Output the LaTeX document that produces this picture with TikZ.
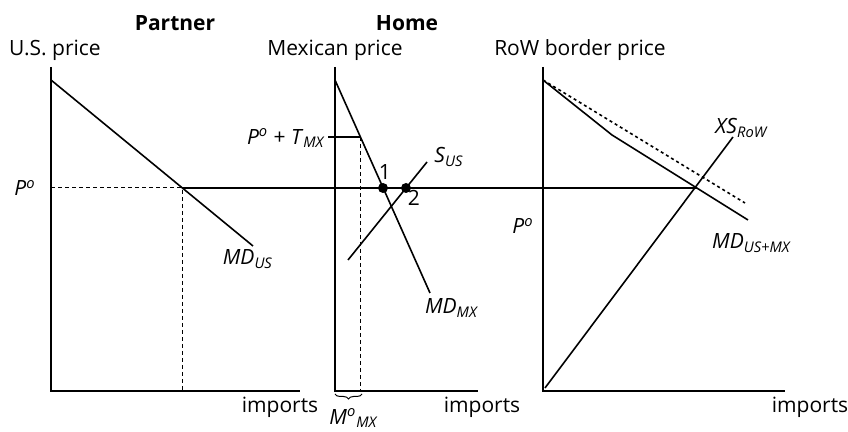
\documentclass[tikz,border=0pt]{standalone}
\usepackage{fontspec}
\setmainfont{Open Sans}
\usetikzlibrary{decorations.pathreplacing}

\newcommand{\Po}{\textit{P}\textsuperscript{\textit{o}}}

\begin{document}
\begin{tikzpicture}[x=0.5pt, y=-0.5pt,
    axis/.style={line width=1.2pt},
    curve/.style={line width=0.8pt},
    guide/.style={line width=0.5pt, dash pattern=on 2pt off 1.5pt},
    lbl/.style={inner sep=0pt, font=\fontsize{10.5}{12}\selectfont},
    ttl/.style={lbl, font=\fontsize{10.5}{12}\selectfont\bfseries},
    dot/.style={circle, fill, inner sep=0pt, minimum size=5pt}]
    \useasboundingbox (0,0) rectangle (848,432);

    % partner: U.S. market
    \coordinate (usTop) at (51,67);
    \coordinate (usO) at (51,391);
    \coordinate (usEnd) at (300,391);
    \coordinate (mdUSa) at (51,80);
    \coordinate (mdUSb) at (253,246);
    \coordinate (usPo) at (51,188);
    \coordinate (usE) at (182,188);
    \coordinate (usEq) at (182,391);
    \draw[axis] (usTop) -- (usO) -- (usEnd);
    \draw[curve] (mdUSa) -- (mdUSb);
    \draw[guide] (usPo) -- (usE) -- (usEq);

    % home: Mexican market
    \coordinate (mxTop) at (335,67);
    \coordinate (mxO) at (335,391);
    \coordinate (mxEnd) at (478,391);
    \coordinate (mdMXa) at (335,80);
    \coordinate (mdMXb) at (430,293);
    \coordinate (sUSa) at (348,260);
    \coordinate (sUSb) at (427,162);
    \coordinate (tTick) at (328,137);
    \coordinate (tAx) at (335,137);
    \coordinate (tE) at (360,137);
    \coordinate (tEq) at (360,391);
    \coordinate (braceL) at (335,394);
    \coordinate (braceR) at (362,394);
    \draw[axis] (mxTop) -- (mxO) -- (mxEnd);
    \draw[curve] (mdMXa) -- (mdMXb);
    \draw[curve] (sUSa) -- (sUSb);
    \draw[line width=0.6pt] (tTick) -- (tE);
    \draw[guide] (tE) -- (tEq);
    \draw[line width=0.5pt, decorate, decoration={brace, mirror, amplitude=2.5pt}] (braceL) -- (braceR);
    \node[dot] (eq1) at (383,188) {};
    \node[dot] (eq2) at (406,188) {};

    % rest of world
    \coordinate (rwTop) at (543,67);
    \coordinate (rwO) at (543,391);
    \coordinate (rwEnd) at (785,391);
    \coordinate (mdAa) at (543,80);
    \coordinate (mdAk) at (612,135);
    \coordinate (mdAb) at (748,220);
    \coordinate (mdDb) at (745,203);
    \coordinate (xsA) at (545,388);
    \coordinate (xsB) at (733,137);
    \coordinate (rowE) at (697,188);
    \draw[axis] (rwTop) -- (rwO) -- (rwEnd);
    \draw[curve] (mdAa) -- (mdAk) -- (mdAb);
    \draw[line width=0.8pt, dash pattern=on 1.5pt off 1.5pt] (mdAa) -- (mdDb);
    \draw[curve] (xsA) -- (xsB);

    % world price line
    \draw[curve] (usE) -- (rowE);

    % labels
    \node[ttl] (partner) at (175,23) {Partner};
    \node[ttl] (home) at (407,23) {Home};
    \node[lbl] (usPrice) at (55,50) {U.S. price};
    \node[lbl] (mxPrice) at (335,50) {Mexican price};
    \node[lbl] (rwPrice) at (580,50) {RoW border price};
    \node[lbl] (poUS) at (25,188) {\Po};
    \node[lbl] (poRW) at (523,226) {\Po};
    \node[lbl, anchor=east] (poT) at (326,138) {\Po{} + \textit{T}\textsubscript{\textit{MX}}};
    \node[lbl] (mdUS) at (248,259) {\textit{MD}\textsubscript{\textit{US}}};
    \node[lbl] (mdMX) at (452,308) {\textit{MD}\textsubscript{\textit{MX}}};
    \node[lbl] (sUS) at (449,157) {\textit{S}\textsubscript{\textit{US}}};
    \node[lbl] (one) at (385,172) {1};
    \node[lbl] (two) at (414,198) {2};
    \node[lbl] (xsRoW) at (742,128) {\textit{XS}\textsubscript{\textit{RoW}}};
    \node[lbl] (mdAll) at (752,243) {\textit{MD}\textsubscript{\textit{US+MX}}};
    \node[lbl] (mo) at (354,418) {\textit{M}\textsuperscript{\textit{o}}\textsubscript{\textit{MX}}};
    \node[lbl] (impUS) at (280,407) {imports};
    \node[lbl] (impMX) at (482,407) {imports};
    \node[lbl] (impRW) at (810,407) {imports};
\end{tikzpicture}
\end{document}
